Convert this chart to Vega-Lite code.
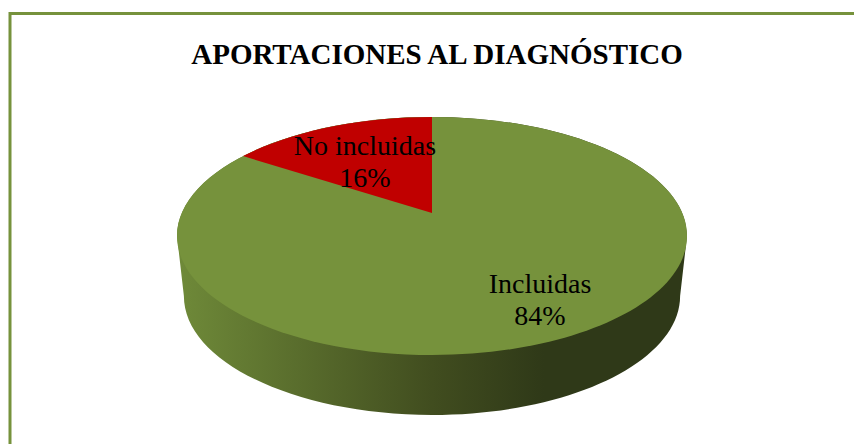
{"$schema":"https://vega.github.io/schema/vega-lite/v6.json","width":850,"height":434,"padding":{"left":10,"top":13.5,"right":0,"bottom":0},"autosize":{"type":"none"},"background":"#ffffff","view":{"stroke":"#76923c","strokeWidth":3,"fill":"#ffffff"},"title":{"text":"APORTACIONES AL DIAGNÓSTICO","anchor":"middle","font":"Liberation Serif","fontWeight":"bold","fontSize":29,"color":"#000000","baseline":"alphabetic","offset":0,"dy":79.5,"dx":2},"data":{"values":[{"categoria":"Incluidas","valor":84},{"categoria":"No incluidas","valor":16}]},"transform":[{"calculate":"datum.categoria + '\\n' + datum.valor + '%'","as":"etiqueta"}],"layer":[{"transform":[{"filter":"datum.categoria === 'Incluidas'"}],"mark":{"type":"point","filled":true,"opacity":1,"size":260100,"xOffset":-3,"yOffset":5.5,"shape":"M-1,0 L-0.973,0.235 A0.973,0.4667 0 0 0 0.973,0.235 L1,0 A1,0.4667 0 0 0 -1,0 Z","fill":{"gradient":"linear","x1":0,"y1":0,"x2":1,"y2":0,"stops":[{"offset":0,"color":"#6f8a39"},{"offset":0.5,"color":"#414d1f"},{"offset":0.72,"color":"#2f3918"},{"offset":1,"color":"#2f3918"}]}},"encoding":{}},{"mark":{"type":"point","filled":true,"opacity":1,"size":260100,"xOffset":-3,"yOffset":5.5},"encoding":{"shape":{"field":"categoria","type":"nominal","legend":null,"scale":{"domain":["Incluidas","No incluidas"],"range":["M-1,0 A1,0.4667 0 1 1 1,0 A1,0.4667 0 1 1 -1,0 Z","M0,-0.09 L-0.741,-0.3134 A1,0.4667 0 0 1 0,-0.4667 Z"]}},"color":{"field":"categoria","type":"nominal","legend":null,"scale":{"domain":["Incluidas","No incluidas"],"range":["#76923c","#c00000"]}}}},{"mark":{"type":"text","font":"Liberation Serif","fontSize":28,"color":"#000000","align":"center","baseline":"alphabetic","lineBreak":"\n","lineHeight":32},"encoding":{"text":{"field":"etiqueta","type":"nominal"},"x":{"field":"categoria","type":"nominal","axis":null,"scale":{"type":"point","padding":0,"domain":["Incluidas","No incluidas"],"range":[530,355]}},"y":{"field":"categoria","type":"nominal","axis":null,"scale":{"type":"point","padding":0,"domain":["Incluidas","No incluidas"],"range":[279.5,141.5]}}}}]}
